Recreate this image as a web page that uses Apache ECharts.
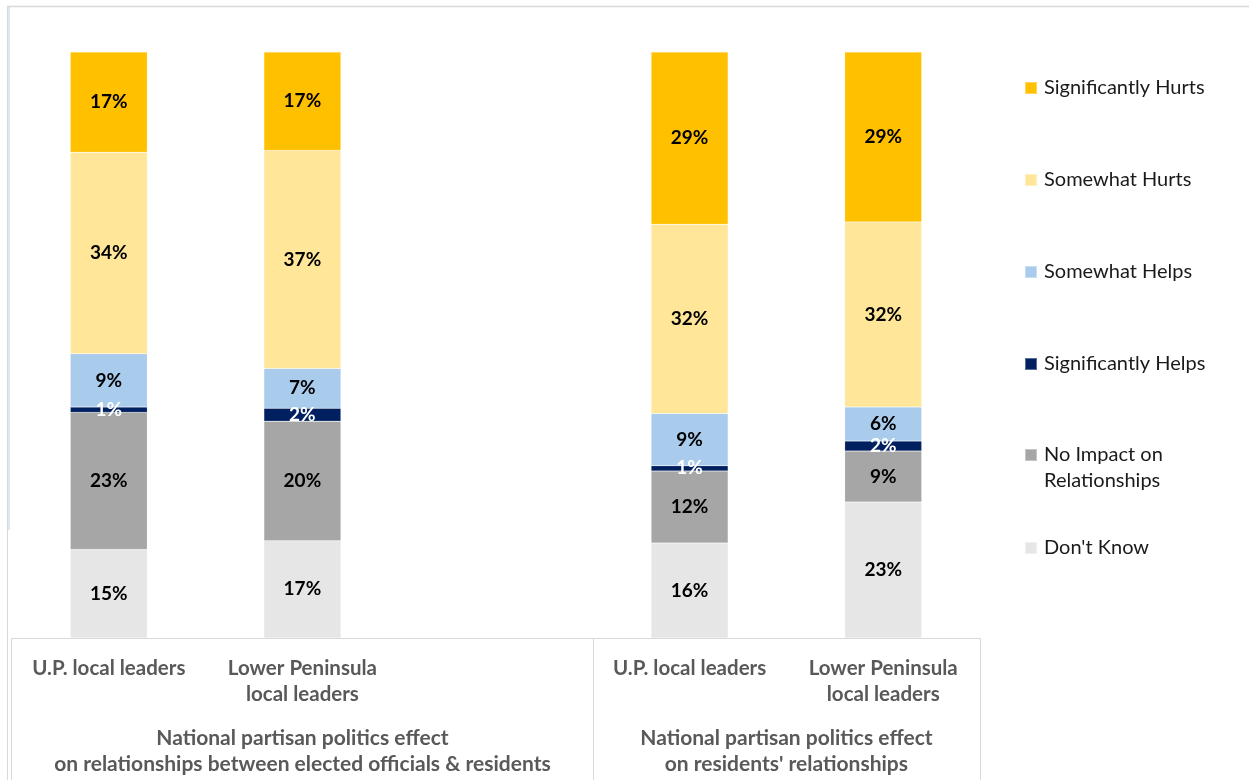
<!DOCTYPE html>
<html>
<head>
<meta charset="utf-8">
<script src="https://cdn.jsdelivr.net/npm/echarts@6/dist/echarts.min.js"></script>
<style>
html,body{margin:0;padding:0;background:#fff;}
#chart{width:1249px;height:780px;}
</style>
</head>
<body>
<div id="chart"></div>
<script>
// ---- data ----
const categories = ['U.P. local leaders', 'Lower Peninsula\nlocal leaders', '', 'U.P. local leaders', 'Lower Peninsula\nlocal leaders'];
const groupLabels = ['National partisan politics effect\non relationships between elected officials & residents',
                     'National partisan politics effect\non residents\' relationships'];
const seriesNames = ['Don\'t Know', 'No Impact on\nRelationships', 'Significantly Helps', 'Somewhat Helps', 'Somewhat Hurts', 'Significantly Hurts'];
const dontKnow      = [15.1, 16.6, null, 16.2, 23.2];
const noImpact      = [23.4, 20.4, null, 12.3, 8.7];
const sigHelps      = [0.9, 2.2, null, 0.9, 1.7];
const somewhatHelps = [9.1, 6.8, null, 8.9, 5.8];
const somewhatHurts = [34.4, 37.2, null, 32.3, 31.6];
const sigHurts      = [17.1, 16.8, null, 29.4, 29.0];
const legendOrder = ['Significantly Hurts', 'Somewhat Hurts', 'Somewhat Helps', 'Significantly Helps', 'No Impact on\nRelationships', 'Don\'t Know'];

const colors = {
  'Don\'t Know': '#E7E6E6',
  'No Impact on\nRelationships': '#A6A6A6',
  'Significantly Helps': '#002060',
  'Somewhat Helps': '#A9CBEC',
  'Somewhat Hurts': '#FFE699',
  'Significantly Hurts': '#FFC000'
};
const values = [dontKnow, noImpact, sigHelps, somewhatHelps, somewhatHurts, sigHurts];
const FONT = 'Lato';

const chart = echarts.init(document.getElementById('chart'));

const series = seriesNames.map((name, i) => ({
  name: name,
  type: 'bar',
  stack: 'total',
  barWidth: 77,
  data: values[i],
  itemStyle: { color: colors[name], borderColor: 'rgba(255,255,255,0.35)', borderWidth: 0.5 },
  label: {
    show: true,
    position: 'inside',
    fontFamily: FONT,
    fontWeight: 'bold',
    fontSize: 19,
    color: name === 'Significantly Helps' ? '#ffffff' : '#000000',
    formatter: p => (p.value == null ? '' : Math.round(p.value) + '%')
  },
  emphasis: { disabled: true }
}));

const legends = legendOrder.map((name, i) => ({
  data: [name],
  orient: 'vertical',
  left: 1019,
  top: name === 'No Impact on\nRelationships' ? 70 + i * 92 - 1 : 70 + i * 92,
  itemWidth: 12,
  itemHeight: name === 'No Impact on\nRelationships' ? 38 : 12,
  icon: name === 'No Impact on\nRelationships' ? 'path://M0,0L12,0L12,12L0,12Z M0,38L0.01,38L0,37.99Z' : 'rect',
  itemGap: 0,
  selectedMode: false,
  textStyle: { fontFamily: FONT, fontSize: 20, color: '#1a1a1a', lineHeight: 26, padding: [0, 0, 0, 2] }
}));

chart.setOption({
  animation: false,
  grid: { left: 12, right: 269, top: 52, bottom: 142 },
  legend: legends,
  xAxis: {
    type: 'category',
    data: categories,
    axisLine: { show: true, lineStyle: { color: '#d9d9d9', width: 1 } },
    axisTick: { show: false },
    axisLabel: {
      interval: 0,
      margin: 17,
      fontFamily: FONT,
      fontWeight: 'bold',
      fontSize: 20.5,
      lineHeight: 26,
      color: '#595959'
    }
  },
  yAxis: { type: 'value', min: 0, max: 100, show: false },
  series: series
});

// decoration: frame, category box and group labels (positions derived from axis)
const c0 = chart.convertToPixel({ xAxisIndex: 0 }, 0);
const c1 = chart.convertToPixel({ xAxisIndex: 0 }, 1);
const band = c1 - c0;
const boxLeft = c0 - band / 2;
const divider = chart.convertToPixel({ xAxisIndex: 0 }, 2) + band / 2;
const boxRight = chart.convertToPixel({ xAxisIndex: 0 }, 4) + band / 2;
const axisY = chart.convertToPixel({ yAxisIndex: 0 }, 0);
const lineStyle = { stroke: '#d9d9d9', lineWidth: 1 };

chart.setOption({
  graphic: [
    { type: 'line', shape: { x1: 7, y1: 6.5, x2: 1249, y2: 6.5 }, style: { stroke: '#d9d9d9', lineWidth: 1.5 }, silent: true },
    { type: 'line', shape: { x1: 7.5, y1: 6, x2: 7.5, y2: 780 }, style: { stroke: '#d9d9d9', lineWidth: 1 }, silent: true },
    { type: 'line', shape: { x1: 9, y1: 7, x2: 9, y2: 530 }, style: { stroke: '#b7d0ee', lineWidth: 1 }, silent: true },
    { type: 'line', shape: { x1: Math.round(boxLeft) - 0.5, y1: axisY, x2: Math.round(boxLeft) - 0.5, y2: 780 }, style: lineStyle, silent: true },
    { type: 'line', shape: { x1: Math.round(boxRight) + 0.5, y1: axisY, x2: Math.round(boxRight) + 0.5, y2: 780 }, style: lineStyle, silent: true },
    { type: 'line', shape: { x1: Math.round(divider) + 0.5, y1: axisY, x2: Math.round(divider) + 0.5, y2: 780 }, style: lineStyle, silent: true },
    {
      type: 'text', silent: true,
      x: (boxLeft + divider) / 2, y: axisY + 87,
      style: { text: groupLabels[0], align: 'center', verticalAlign: 'top', fontFamily: FONT, fontWeight: 'bold', fontSize: 21, lineHeight: 26, fill: '#595959' }
    },
    {
      type: 'text', silent: true,
      x: (divider + boxRight) / 2, y: axisY + 87,
      style: { text: groupLabels[1], align: 'center', verticalAlign: 'top', fontFamily: FONT, fontWeight: 'bold', fontSize: 21, lineHeight: 26, fill: '#595959' }
    }
  ]
});
</script>
</body>
</html>
